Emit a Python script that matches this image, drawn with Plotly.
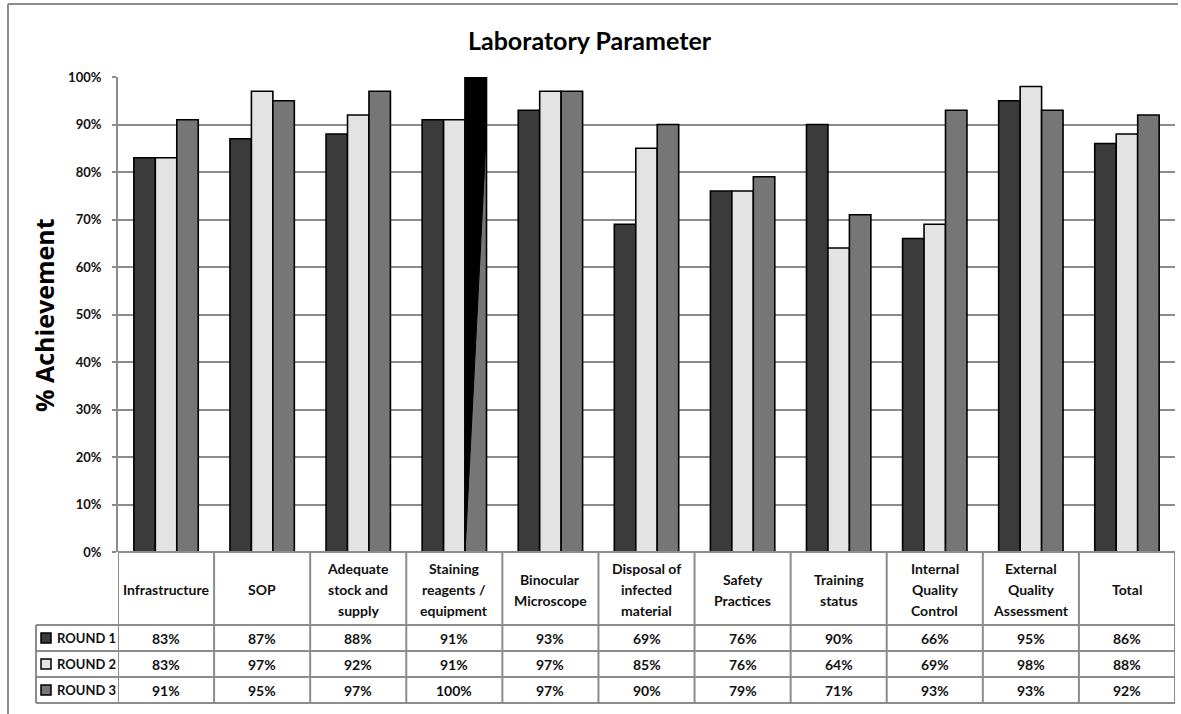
import plotly.graph_objects as go

# ---- data ----
categories = [
    "Infrastructure", "SOP", "Adequate stock and supply", "Staining reagents / equipment",
    "Binocular Microscope", "Disposal of infected material", "Safety Practices",
    "Training status", "Internal Quality Control", "External Quality Assessment", "Total",
]
header_lines = [
    ["Infrastructure"], ["SOP"], ["Adequate", "stock and", "supply"],
    ["Staining", "reagents /", "equipment"], ["Binocular", "Microscope"],
    ["Disposal of", "infected", "material"], ["Safety", "Practices"],
    ["Training", "status"], ["Internal", "Quality", "Control"],
    ["External", "Quality", "Assessment"], ["Total"],
]
series_names = ["ROUND 1", "ROUND 2", "ROUND 3"]
round1 = [83, 87, 88, 91, 93, 69, 76, 90, 66, 95, 86]
round2 = [83, 97, 92, 91, 97, 85, 76, 64, 69, 98, 88]
round3 = [91, 95, 97, 100, 97, 90, 79, 71, 93, 93, 92]
series_values = [round1, round2, round3]
colors = ["#3b3b3b", "#e3e3e3", "#767676"]

# ---- geometry (pixels) ----
W, H = 1181, 714
L, R, T, B = 118, 1175, 77, 552
ROW_TOPS = [625, 651, 677, 703]
LEG_X = 36
GRID = "#8c8c8c"
FONT = "Lato"


def px(x):
    return (x - L) / (R - L)


def py(y):
    return (B - y) / (B - T)


xs = list(range(len(categories)))
bargap = 0.33
bar_w = (1 - bargap) / len(series_values)

fig = go.Figure()
for name, vals, col in zip(series_names, series_values, colors):
    fig.add_trace(go.Bar(
        x=xs, y=[v / 100 for v in vals], name=name,
        marker=dict(color=col, line=dict(color="#000000", width=1.6)),
        showlegend=False, hoverinfo="skip",
    ))

# dark wedge drawn over the full-height ROUND 3 bar
for i, v in enumerate(round3):
    if v >= 100:
        left = i + bar_w / 2
        right = i + 3 * bar_w / 2
        top = v / 100
        fig.add_trace(go.Scatter(
            x=[left, right, right, left, left],
            y=[top, top, top * 0.89, 0, top],
            fill="toself", fillcolor="#000000", mode="lines",
            line=dict(color="#000000", width=1), showlegend=False, hoverinfo="skip",
        ))

shapes = []
line_style = dict(color=GRID, width=2)

# outer frame
shapes.append(dict(type="line", xref="paper", yref="paper", x0=px(8), x1=px(1178),
                   y0=py(4), y1=py(4), line=line_style))
shapes.append(dict(type="line", xref="paper", yref="paper", x0=px(8), x1=px(8),
                   y0=py(4), y1=py(720), line=line_style))

# data table grid
for k in range(len(categories) + 1):
    shapes.append(dict(type="line", xref="x", yref="paper", x0=k - 0.5, x1=k - 0.5,
                       y0=py(B), y1=py(ROW_TOPS[-1]), line=line_style))
shapes.append(dict(type="line", xref="paper", yref="paper", x0=px(L), x1=px(R),
                   y0=py(B), y1=py(B), line=line_style))
for yy in ROW_TOPS:
    shapes.append(dict(type="line", xref="paper", yref="paper", x0=px(LEG_X), x1=px(R),
                       y0=py(yy), y1=py(yy), line=line_style))
shapes.append(dict(type="line", xref="paper", yref="paper", x0=px(LEG_X), x1=px(LEG_X),
                   y0=py(ROW_TOPS[0]), y1=py(ROW_TOPS[-1]), line=line_style))

annotations = []
# header cells
header_mid = (B + ROW_TOPS[0]) / 2 + 1
line_gap = 21
for i, lines in enumerate(header_lines):
    n = len(lines)
    for j, txt in enumerate(lines):
        yc = header_mid + (j - (n - 1) / 2) * line_gap
        annotations.append(dict(x=i, y=py(yc), xref="x", yref="paper", text=f"<b>{txt}</b>",
                                showarrow=False, xanchor="center", yanchor="middle",
                                font=dict(family=FONT, size=14, color="#111111")))

# value rows with legend keys
for r, (name, vals, col) in enumerate(zip(series_names, series_values, colors)):
    yc = (ROW_TOPS[r] + ROW_TOPS[r + 1]) / 2
    shapes.append(dict(type="rect", xref="paper", yref="paper",
                       x0=px(41), x1=px(51), y0=py(yc - 5), y1=py(yc + 5),
                       fillcolor=col, line=dict(color="#000000", width=1.5)))
    annotations.append(dict(x=px(55), y=py(yc), xref="paper", yref="paper", text=f"<b>{name}</b>",
                            showarrow=False, xanchor="left", yanchor="middle",
                            font=dict(family=FONT, size=13, color="#111111")))
    for i, v in enumerate(vals):
        annotations.append(dict(x=i, y=py(yc), xref="x", yref="paper", text=f"<b>{v}%</b>",
                                showarrow=False, xanchor="center", yanchor="middle",
                                font=dict(family=FONT, size=14, color="#111111")))

# title and axis title
annotations.append(dict(x=px(590), y=py(40), xref="paper", yref="paper",
                        text="<b>Laboratory Parameter</b>", showarrow=False,
                        xanchor="center", yanchor="middle",
                        font=dict(family=FONT, size=25, color="#000000")))
annotations.append(dict(x=px(44), y=py(315), xref="paper", yref="paper",
                        text="<b>% Achievement</b>", showarrow=False, textangle=-90,
                        xanchor="center", yanchor="middle",
                        font=dict(family="Open Sans", size=25, color="#000000")))

fig.update_layout(
    width=W, height=H,
    margin=dict(l=L, r=W - R, t=T, b=H - B),
    paper_bgcolor="white", plot_bgcolor="white",
    barmode="group", bargap=bargap, bargroupgap=0,
    shapes=shapes, annotations=annotations,
    showlegend=False,
)
fig.update_xaxes(range=[-0.5, len(categories) - 0.5], showticklabels=False,
                 showgrid=False, zeroline=False, showline=False, ticks="")
fig.update_yaxes(range=[0, 1], dtick=0.1, tickformat=".0%", showgrid=True,
                 gridcolor=GRID, gridwidth=2, zeroline=False, showline=True,
                 linecolor=GRID, linewidth=2, ticks="outside", ticklen=4,
                 tickcolor=GRID, tickwidth=2, ticklabelstandoff=8,
                 tickfont=dict(family=FONT, size=13, color="#111111", weight="bold"))

fig.write_html("out.html")
